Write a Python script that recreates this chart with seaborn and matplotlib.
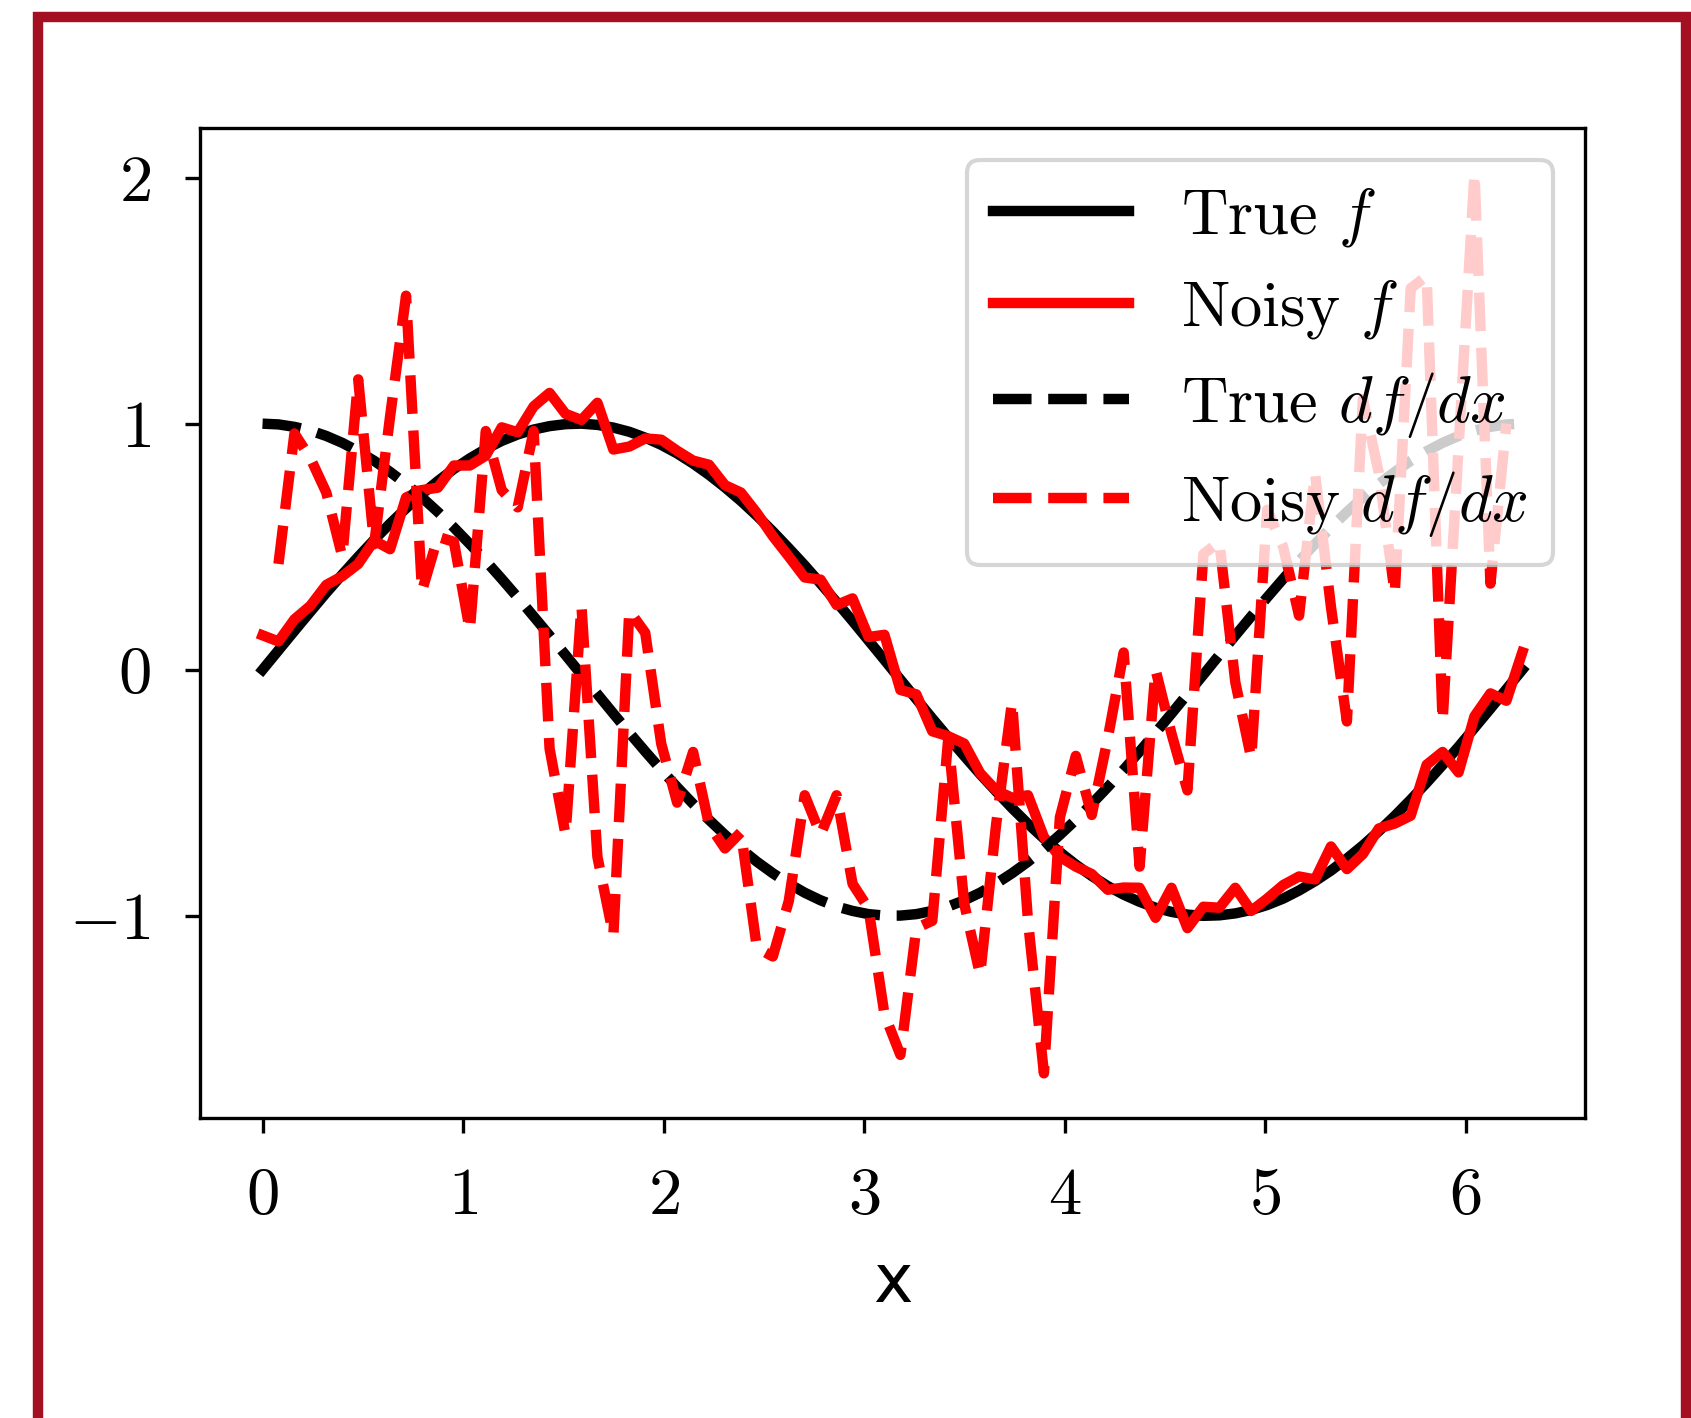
import numpy as np
import matplotlib
matplotlib.use("Agg")
import matplotlib.pyplot as plt
import seaborn as sns
from matplotlib.patches import Rectangle

# ---------------- data ----------------
x = np.linspace(0, 2 * np.pi, 80)

true_f = [0.000, 0.079, 0.158, 0.236, 0.313, 0.387, 0.459, 0.528, 0.594, 0.656,
          0.714, 0.767, 0.816, 0.859, 0.897, 0.930, 0.956, 0.976, 0.990, 0.998,
          1.000, 0.995, 0.984, 0.967, 0.943, 0.914, 0.879, 0.838, 0.792, 0.741,
          0.686, 0.626, 0.562, 0.494, 0.424, 0.350, 0.275, 0.198, 0.119, 0.040,
          -0.040, -0.119, -0.198, -0.275, -0.350, -0.424, -0.494, -0.562, -0.626, -0.686,
          -0.741, -0.792, -0.838, -0.879, -0.914, -0.943, -0.967, -0.984, -0.995, -1.000,
          -0.998, -0.990, -0.976, -0.956, -0.930, -0.897, -0.859, -0.816, -0.767, -0.714,
          -0.656, -0.594, -0.528, -0.459, -0.387, -0.313, -0.236, -0.158, -0.079, 0.000]

noisy_f = [0.14, 0.115, 0.205, 0.26, 0.345, 0.38, 0.43, 0.525, 0.49, 0.70,
           0.73, 0.74, 0.83, 0.83, 0.87, 0.985, 0.965, 1.07, 1.125, 1.04,
           1.015, 1.085, 0.895, 0.907, 0.94, 0.935, 0.89, 0.85, 0.833, 0.75,
           0.72, 0.637, 0.543, 0.46, 0.375, 0.366, 0.263, 0.29, 0.133, 0.142,
           -0.082, -0.10, -0.25, -0.27, -0.30, -0.42, -0.49, -0.52, -0.51, -0.68,
           -0.76, -0.80, -0.83, -0.894, -0.885, -0.886, -1.008, -0.886, -1.05, -0.963,
           -0.967, -0.886, -0.98, -0.93, -0.875, -0.84, -0.852, -0.718, -0.81, -0.749,
           -0.645, -0.625, -0.593, -0.386, -0.334, -0.417, -0.189, -0.096, -0.126, 0.071]

true_df = [1.000, 0.997, 0.987, 0.972, 0.950, 0.922, 0.888, 0.849, 0.804, 0.755,
           0.700, 0.641, 0.578, 0.511, 0.442, 0.369, 0.294, 0.217, 0.139, 0.060,
           -0.020, -0.099, -0.178, -0.256, -0.332, -0.406, -0.477, -0.545, -0.610, -0.671,
           -0.728, -0.780, -0.827, -0.869, -0.906, -0.937, -0.962, -0.980, -0.993, -0.999,
           -0.999, -0.993, -0.980, -0.962, -0.937, -0.906, -0.869, -0.827, -0.780, -0.728,
           -0.671, -0.610, -0.545, -0.477, -0.406, -0.332, -0.256, -0.178, -0.099, -0.020,
           0.060, 0.139, 0.217, 0.294, 0.369, 0.442, 0.511, 0.578, 0.641, 0.700,
           0.755, 0.804, 0.849, 0.888, 0.922, 0.950, 0.972, 0.987, 0.997, 1.000]

# noisy derivative, defined on the interior points x[1:-1]
noisy_df = [0.43, 0.96, 0.86, 0.72, 0.46, 1.18, 0.51, 1.03, 1.52,
            0.32, 0.54, 0.52, 0.16, 0.97, 0.73, 0.66, 0.97, -0.32, -0.67,
            0.26, -0.76, -1.08, 0.24, 0.15, -0.30, -0.54, -0.334, -0.63, -0.726,
            -0.66, -1.13, -1.165, -0.94, -0.51, -0.67, -0.51, -0.87, -0.97, -1.40,
            -1.565, -1.05, -1.02, -0.28, -0.95, -1.24, -0.63, -0.13, -1.02, -1.64,
            -0.60, -0.35, -0.59, -0.28, 0.07, -0.80, 0.0, -0.26, -0.49, 0.47,
            0.52, -0.05, -0.36, 0.65, 0.50, 0.22, 0.80, 0.255, -0.21, 1.10,
            0.80, 0.31, 1.55, 1.60, -0.21, 0.90, 2.02, 0.35, 1.00]

labels = [r"True $f$", r"Noisy $f$", r"True $df/dx$", r"Noisy $df/dx$"]
xtick_vals = [0, 1, 2, 3, 4, 5, 6]
ytick_vals = [-1, 0, 1, 2]

# ---------------- style ----------------
plt.rcParams["mathtext.fontset"] = "cm"
plt.rcParams["font.family"] = ["serif"]
plt.rcParams["font.serif"] = ["cmr10", "DejaVu Serif"]
plt.rcParams["axes.unicode_minus"] = False

fig = plt.figure(figsize=(1691 / 300, 1418 / 300), dpi=300)
ax = fig.add_axes([0.118, 0.2113, 0.8195, 0.6987])

lw = 2.5
sns.lineplot(x=x, y=true_f, color="black", lw=lw, label=labels[0], ax=ax)
sns.lineplot(x=x, y=noisy_f, color="red", lw=lw, label=labels[1], ax=ax)
sns.lineplot(x=x, y=true_df, color="black", lw=lw, ls="--", label=labels[2], ax=ax)
sns.lineplot(x=x[1:-1], y=noisy_df, color="red", lw=lw, ls="--", label=labels[3], ax=ax)

ax.set_xticks(xtick_vals)
ax.set_xticklabels([f"${v}$" for v in xtick_vals], fontsize=16)
ax.set_yticks(ytick_vals)
ax.set_yticklabels([f"${v}$" for v in ytick_vals], fontsize=16)
ax.tick_params(axis="both", pad=8.2)
ax.set_xlabel("x", fontsize=16, fontfamily="DejaVu Sans", labelpad=5.5)
ax.set_ylabel("")

ax.legend(loc="upper right", fontsize=15.5, labelspacing=0.45, handlelength=2.1)

# dark red frame around the figure (open at the bottom edge of the image)
fig.add_artist(Rectangle((0.0222, -0.1), 0.9748, 1.0877, transform=fig.transFigure,
                         fill=False, edgecolor="#A50F22", lw=2.5, clip_on=False))

fig.savefig("out.png", dpi=300)
